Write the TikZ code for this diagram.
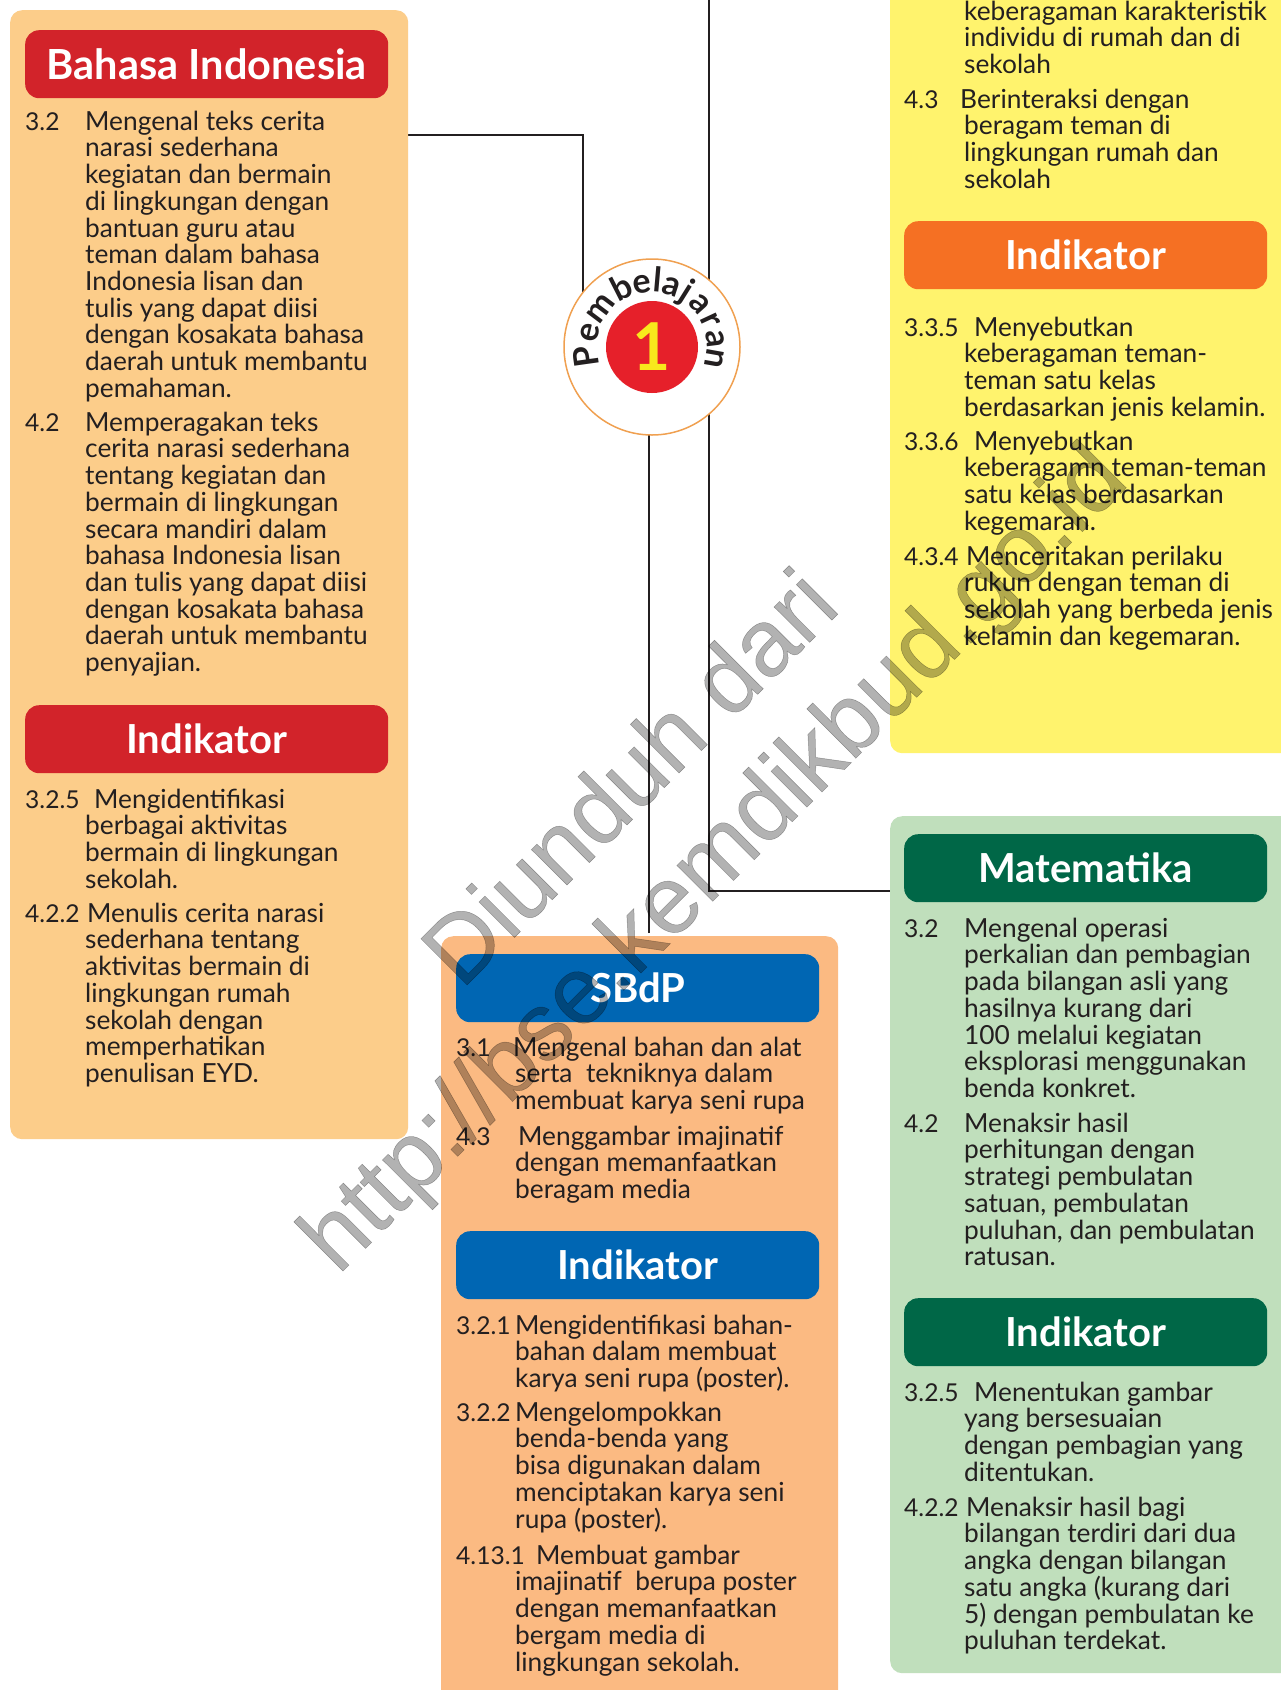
\documentclass[tikz,border=0pt]{standalone}
\usepackage{fontspec}
\setmainfont{Lato}
\newfontfamily\wmfont[FakeBold=0.5]{Liberation Sans}
\usetikzlibrary{backgrounds,calc}
\definecolor{inkc}{HTML}{231F20}
\definecolor{panL}{HTML}{FCCD8A}
\definecolor{redh}{HTML}{D2232A}
\definecolor{panY}{HTML}{FFF36D}
\definecolor{orah}{HTML}{F57023}
\definecolor{panG}{HTML}{C0DFBC}
\definecolor{grnh}{HTML}{006747}
\definecolor{panS}{HTML}{FBBA82}
\definecolor{bluh}{HTML}{0066B3}
\definecolor{ringc}{HTML}{F0A050}
\definecolor{redc}{HTML}{E6202A}
\definecolor{yelc}{HTML}{F8E81C}
\newcounter{tn}
\newcommand{\hdtxt}[1]{\raisebox{-2pt}{#1}}
\tikzset{
  panelbox/.style={rectangle,rounded corners=12pt,inner sep=0pt,anchor=north west},
  headbox/.style={rectangle,rounded corners=14pt,inner sep=0pt,anchor=north west,minimum width=363pt,minimum height=68pt,text=white,font=\fontsize{40}{44}\selectfont\bfseries},
  txt/.style={inner sep=0pt,text=inkc,font=\fontsize{26.3}{26.7}\selectfont},
  numtxt/.style={inner sep=0pt,text=inkc,font=\fontsize{24.6}{26.7}\selectfont},
  link/.style={draw=inkc,line width=2.6pt},
  ringletter/.style={inner sep=0pt,text=inkc,anchor=base,font=\fontsize{34}{36}\selectfont\bfseries},
}
\newcommand{\entry}[7]{%
  \stepcounter{tn}%
  \node[numtxt,anchor=base west] (n\thetn) at (#1,#4) {#5};
  \node[txt,anchor=base west] (f\thetn) at (#2,#4) {#6};
  \node[txt,anchor=north west,align=left] (r\thetn) at (#3,#4+6.7) {\rule{0pt}{20pt}#7};
}
\begin{document}
\begin{tikzpicture}[x=1pt,y=-1pt]
\clip (0,0) rectangle (1281,1690);
% panels
\node[panelbox,fill=panL,minimum width=398pt,minimum height=1129pt] (pL) at (10,10) {};
\node[panelbox,fill=panY,minimum width=420pt,minimum height=783pt] (pY) at (890,-30) {};
\node[panelbox,fill=panG,minimum width=420pt,minimum height=857pt] (pG) at (890,816) {};
\node[panelbox,fill=panS,minimum width=397pt,minimum height=800pt] (pS) at (441,936) {};
% headers
\node[headbox,fill=redh,font=\fontsize{41.5}{44}\selectfont\bfseries] (hL) at (25,30) {\hdtxt{Bahasa Indonesia}};
\node[headbox,fill=redh] (hLi) at (25,705) {\hdtxt{Indikator}};
\node[headbox,fill=orah] (hYi) at (904,221) {\hdtxt{Indikator}};
\node[headbox,fill=grnh] (hG) at (904,834) {\hdtxt{Matematika}};
\node[headbox,fill=grnh] (hGi) at (904,1298) {\hdtxt{Indikator}};
\node[headbox,fill=bluh] (hS) at (456,954) {\hdtxt{SBdP}};
\node[headbox,fill=bluh] (hSi) at (456,1231) {\hdtxt{Indikator}};
% centre badge
\node[circle,draw=ringc,line width=1.5pt,fill=white,minimum size=176pt,inner sep=0pt] (c) at (652,347) {};
\node[circle,fill=redc,minimum size=92pt,inner sep=0pt] (ci) at (652,347) {};
\node[text=yelc,font=\fontsize{66}{66}\selectfont\bfseries] (one) at (652,347) {1};
\begin{scope}[shift={(c.center)},x=1pt,y=1pt]
\foreach \ang/\chr [count=\i] in {188/P,167/e,143/m,117/b,99/e,85/l,72/a,58/j,42/a,25/r,7/a,-10/n}
  \node[ringletter,rotate=\ang-90] (ltr\i) at (\ang:55) {\chr};
\end{scope}
% connectors
\coordinate (jl) at (583,135);
\coordinate (tr) at (709,0);
\coordinate (br) at (709,891);
\coordinate (sb) at (649,933);
\begin{scope}[on background layer]
\fill[white] (0,0) rectangle (1281,1690);
\draw[link] (pL.east |- jl) -- (jl) -- (jl |- c.center);
\draw[link] (tr) -- (br) -- (br -| pG.west);
\draw[link] (sb) -- (sb |- c.center);
\end{scope}
% left
\entry{25}{85}{85}{130}{3.2}{Mengenal teks cerita}{narasi sederhana\\kegiatan dan bermain\\di lingkungan dengan\\bantuan guru atau\\teman dalam bahasa\\Indonesia lisan dan\\tulis yang dapat diisi\\dengan kosakata bahasa\\daerah untuk membantu\\pemahaman.}
\entry{25}{85}{85}{431}{4.2}{Memperagakan teks}{cerita narasi sederhana\\tentang kegiatan dan\\bermain di lingkungan\\secara mandiri dalam\\bahasa Indonesia lisan\\dan tulis yang dapat diisi\\dengan kosakata bahasa\\daerah untuk membantu\\penyajian.}
\entry{25}{94}{85}{808}{3.2.5}{Mengidentifikasi}{berbagai aktivitas\\bermain di lingkungan\\sekolah.}
\entry{25}{87}{85}{922}{4.2.2}{Menulis cerita narasi}{sederhana tentang\\aktivitas bermain di\\lingkungan rumah\\sekolah dengan\\memperhatikan\\penulisan EYD.}
% sbdp
\entry{456}{513}{515}{1056}{3.1}{Mengenal bahan dan alat}{serta\ \ tekniknya dalam\\membuat karya seni rupa}
\entry{456}{518}{515}{1145}{4.3}{Menggambar imajinatif}{dengan memanfaatkan\\beragam media}
\entry{456}{515}{515}{1334}{3.2.1}{Mengidentifikasi bahan-}{bahan dalam membuat\\karya seni rupa (poster).}
\entry{456}{515}{515}{1421}{3.2.2}{Mengelompokkan}{benda-benda yang\\bisa digunakan dalam\\menciptakan karya seni\\rupa (poster).}
\entry{456}{536}{515}{1564}{4.13.1}{Membuat gambar}{imajinatif\ \ berupa poster\\dengan memanfaatkan\\bergam media di\\lingkungan sekolah.}
% yellow
\node[txt,anchor=north west,align=left] (ytop) at (964,0) {\rule{0pt}{20pt}keberagaman karakteristik\\individu di rumah dan di\\sekolah};
\entry{904}{960}{964}{108}{4.3}{Berinteraksi dengan}{beragam teman di\\lingkungan rumah dan\\sekolah}
\entry{904}{974}{964}{336}{3.3.5}{Menyebutkan}{keberagaman teman-\\teman satu kelas\\berdasarkan jenis kelamin.}
\entry{904}{974}{964}{450}{3.3.6}{Menyebutkan}{keberagamn teman-teman\\satu kelas berdasarkan\\kegemaran.}
\entry{904}{966}{964}{565}{4.3.4}{Menceritakan perilaku}{rukun dengan teman di\\sekolah yang berbeda jenis\\kelamin dan kegemaran.}
% green
\entry{904}{964}{964}{937}{3.2}{Mengenal operasi}{perkalian dan pembagian\\pada bilangan asli yang\\hasilnya kurang dari\\100 melalui kegiatan\\eksplorasi menggunakan\\benda konkret.}
\entry{904}{964}{964}{1132}{4.2}{Menaksir hasil}{perhitungan dengan\\strategi pembulatan\\satuan, pembulatan\\puluhan, dan pembulatan\\ratusan.}
\entry{904}{974}{964}{1401}{3.2.5}{Menentukan gambar}{yang bersesuaian\\dengan pembagian yang\\ditentukan.}
\entry{904}{966}{964}{1516}{4.2.2}{Menaksir hasil bagi}{bilangan terdiri dari dua\\angka dengan bilangan\\satu angka (kurang dari\\5) dengan pembulatan ke\\puluhan terdekat.}
% watermark
\node[rotate=45,text=black,text opacity=0.3,font=\wmfont\fontsize{95}{100}\selectfont] (wm1) at (628,776) {Diunduh dari};
\node[rotate=45,text=black,text opacity=0.3,font=\wmfont\fontsize{96}{100}\selectfont] (wm2) at (717,862) {http://bse.kemdikbud.go.id};
\end{tikzpicture}
\end{document}
